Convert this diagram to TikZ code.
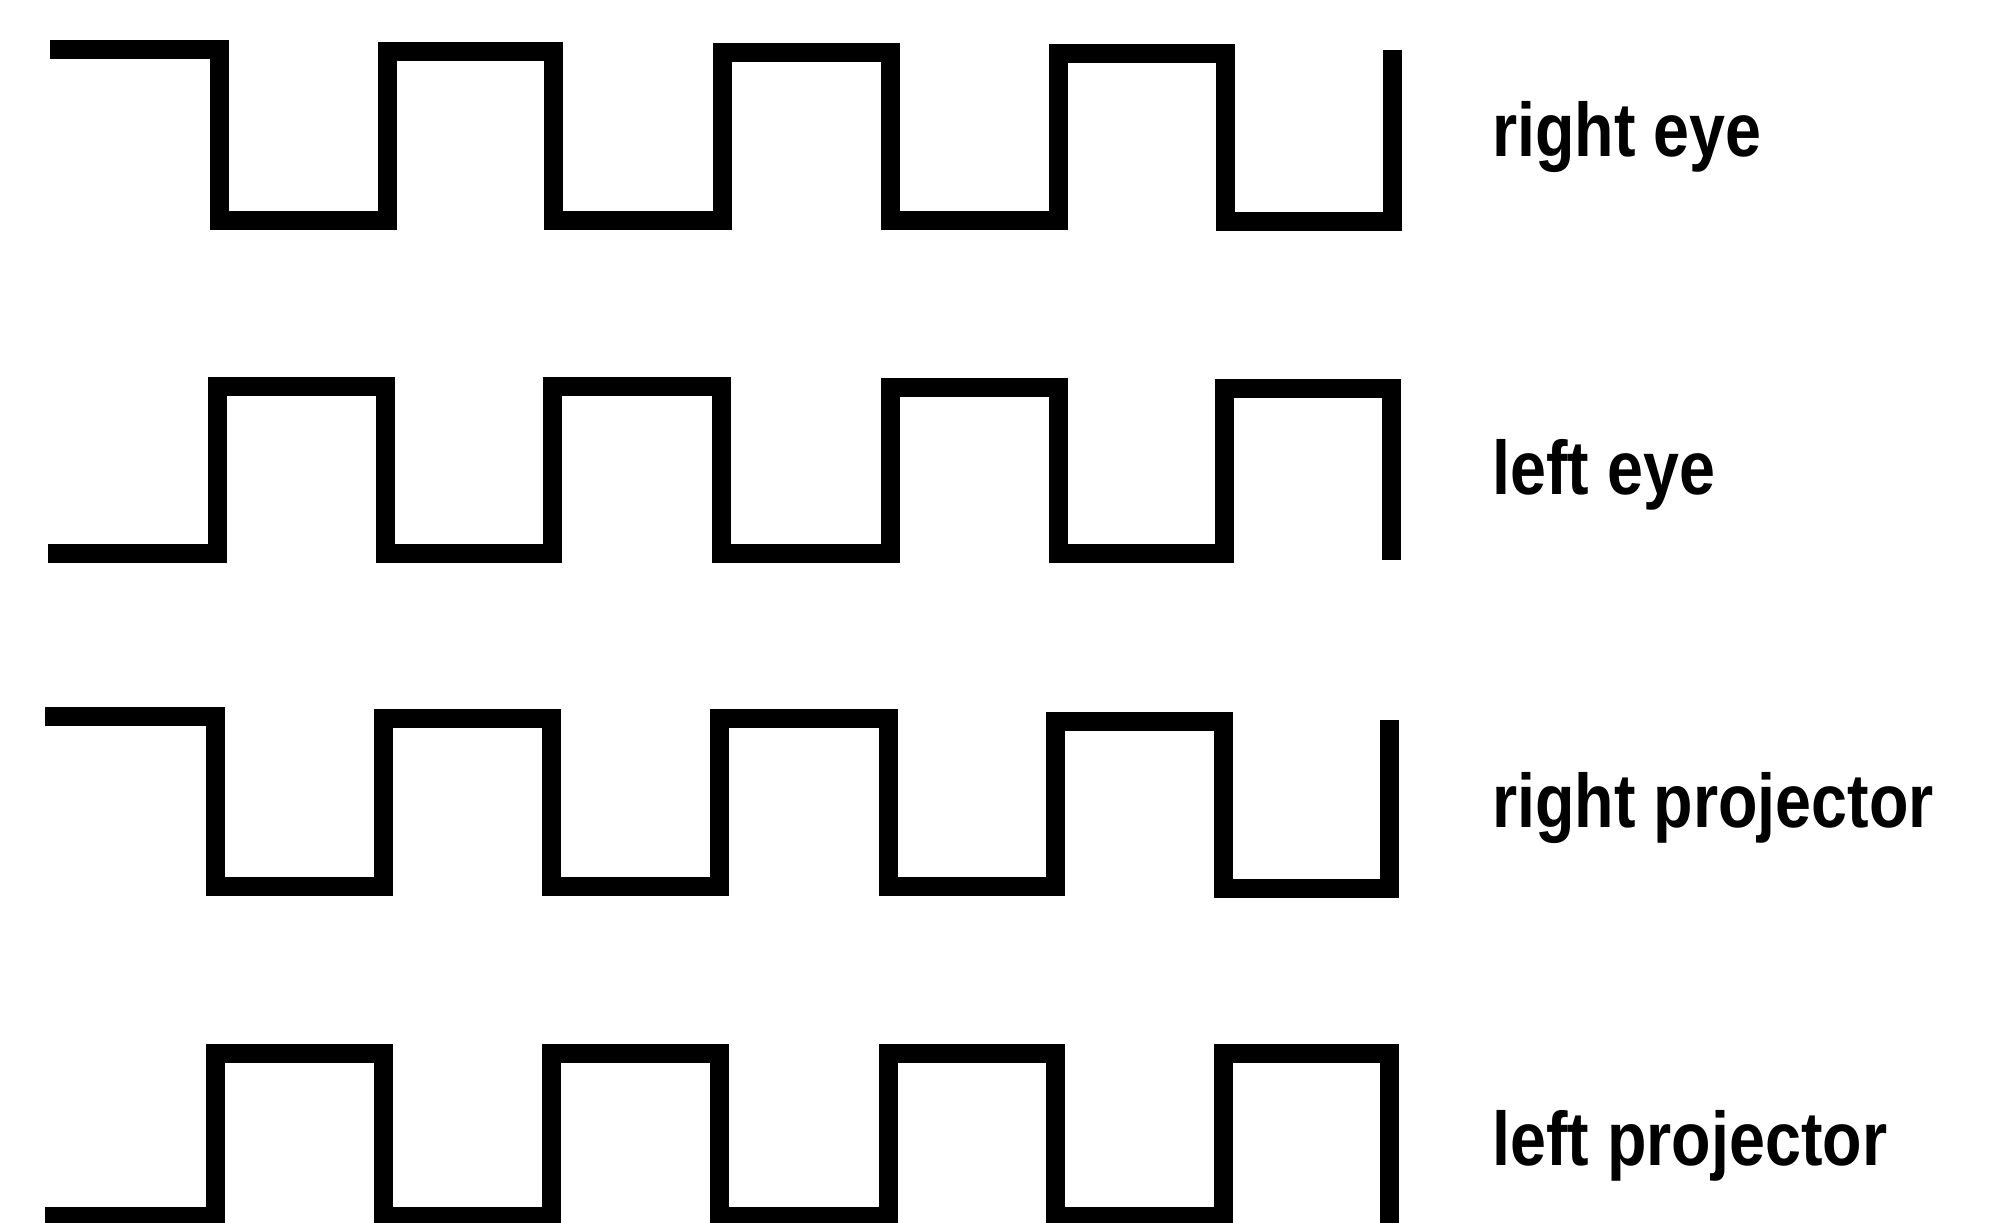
\documentclass[tikz,border=0pt]{standalone}
\usepackage{fontspec}
\setmainfont{Liberation Sans}
\begin{document}
\begin{tikzpicture}[x=0.5pt,y=-0.5pt,
  wave/.style={line width=9.5pt,line join=miter,line cap=butt,black},
  lab/.style={anchor=base west,inner sep=0pt,font=\fontsize{38pt}{40pt}\selectfont\bfseries}]
\useasboundingbox (0,0) rectangle (1990,1222);
% right eye
\draw[wave] (50,49) -- (219,49) -- (219,220) -- (387,220) -- (387,51) -- (553,51) -- (553,220) -- (722,220) -- (722,52) -- (890,52) -- (890,220) -- (1058,220) -- (1058,53) -- (1225,53) -- (1225,221) -- (1392,221) -- (1392,50);
% left eye
\draw[wave] (48,553) -- (217,553) -- (217,386) -- (385,386) -- (385,553) -- (552,553) -- (552,386) -- (721,386) -- (721,553) -- (890,553) -- (890,387) -- (1058,387) -- (1058,553) -- (1224,553) -- (1224,388) -- (1391,388) -- (1391,560);
% right projector
\draw[wave] (45,716) -- (215,716) -- (215,886) -- (383,886) -- (383,718) -- (551,718) -- (551,886) -- (719,886) -- (719,718) -- (888,718) -- (888,886) -- (1055,886) -- (1055,721) -- (1223,721) -- (1223,888) -- (1389,888) -- (1389,720);
% left projector
\draw[wave] (45,1216) -- (215,1216) -- (215,1053) -- (383,1053) -- (383,1216) -- (551,1216) -- (551,1053) -- (719,1053) -- (719,1216) -- (888,1216) -- (888,1053) -- (1055,1053) -- (1055,1216) -- (1223,1216) -- (1223,1053) -- (1389,1053) -- (1389,1240);
% labels
\node[lab] (l1) at (1492,156) {\scalebox{0.85}[1]{right eye}};
\node[lab] (l2) at (1492,494) {\scalebox{0.85}[1]{left eye}};
\node[lab] (l3) at (1492,827) {\scalebox{0.85}[1]{right projector}};
\node[lab] (l4) at (1492,1165) {\scalebox{0.85}[1]{left projector}};
\end{tikzpicture}
\end{document}
